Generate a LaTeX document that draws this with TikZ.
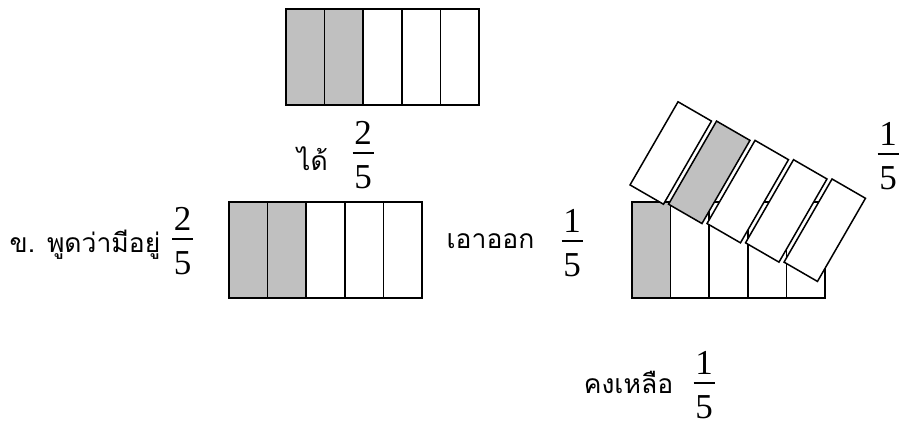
\documentclass[tikz,border=0pt]{standalone}
\usepackage{fontspec}
\setmainfont{Liberation Serif}
\newfontfamily\thaifont[Script=Thai]{Loma}
\usepackage{tikz}
\definecolor{gri}{RGB}{192,192,192}
\newcommand{\fractie}[2]{\vbox{\hbox to 21pt{\hss#1\hss}\kern8.3pt
  \hrule height 1.3pt\kern11.3pt\hbox to 21pt{\hss#2\hss}}}
\tikzset{
  celula/.style   = {draw, line width=1.5pt, fill=white},
  umplut/.style   = {celula, fill=gri},
  inclinat/.style = {celula, rotate=-30, minimum width=38.6pt,
                     minimum height=96pt, inner sep=0pt, outer sep=0pt},
  eticheta/.style = {font=\thaifont\fontsize{26.5}{30}\selectfont,
                     inner sep=0pt, anchor=base},
  nrfrac/.style   = {font=\fontsize{35}{40}\selectfont, inner sep=0pt, anchor=base}
}
\begin{document}
\begin{tikzpicture}[x=1pt, y=-1pt]
    \useasboundingbox (0,0) rectangle (899,424);
    % banda de sus
    \foreach \i in {0,1} \draw[umplut] (286+38.6*\i,9) rectangle ++(38.6,96);
    \foreach \i in {2,3,4} \draw[celula] (286+38.6*\i,9) rectangle ++(38.6,96);
    % banda din mijloc
    \foreach \i in {0,1} \draw[umplut] (229+38.6*\i,202) rectangle ++(38.6,96);
    \foreach \i in {2,3,4} \draw[celula] (229+38.6*\i,202) rectangle ++(38.6,96);
    % banda din dreapta, cu fasiile ridicate
    \draw[umplut] (632,202) rectangle ++(38.6,96);
    \foreach \i in {1,...,4} \draw[celula] (632+38.6*\i,202) rectangle ++(38.6,96);
    \foreach \i in {0,2,3,4}
        \node[inclinat] (fasie\i) at (670.75+38.5*\i,153+19.3*\i) {};
    \node[inclinat, fill=gri] (fasie1) at (709.25,172.3) {};

    \node[eticheta] (ai) at (312.5,170) {ได้};
    \node[nrfrac] (fai) at (363,188) {\fractie{2}{5}};
    \node[eticheta] (spune) at (85,252) {ข. พูดว่ามีอยู่};
    \node[nrfrac] (fspune) at (182.5,274) {\fractie{2}{5}};
    \node[eticheta] (scoate) at (490.5,248) {เอาออก};
    \node[nrfrac] (fscoate) at (572,276) {\fractie{1}{5}};
    \node[nrfrac] (fsus) at (888,189) {\fractie{1}{5}};
    \node[eticheta] (rest) at (628.5,393) {คงเหลือ};
    \node[nrfrac] (frest) at (704,418) {\fractie{1}{5}};
\end{tikzpicture}
\end{document}
